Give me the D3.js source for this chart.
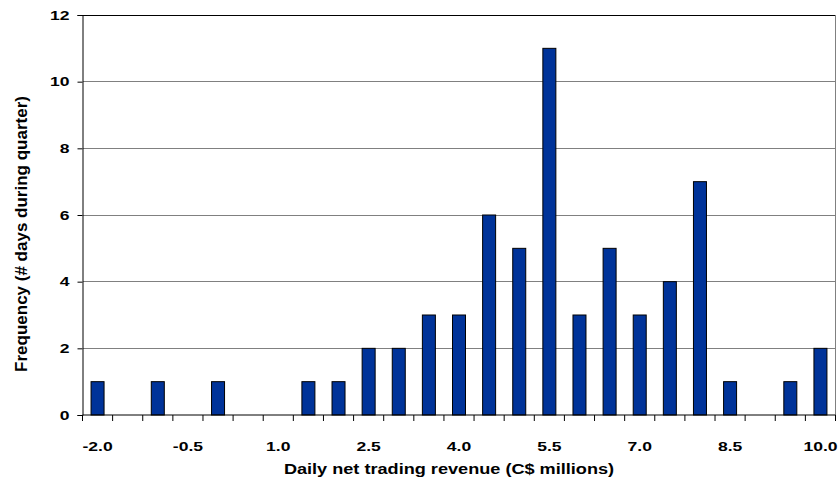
<!DOCTYPE html>
<html>
<head>
<meta charset="utf-8">
<script src="https://cdn.jsdelivr.net/npm/d3@7"></script>
<style>
  html, body { margin: 0; padding: 0; background: #fff; }
  svg text { font-family: "Liberation Sans", Arial, sans-serif; font-weight: bold; fill: #000; }
</style>
</head>
<body>
<svg id="chart" width="840" height="487"></svg>
<script>
// Revenue buckets (C$ millions) and number of trading days in each
const buckets = ["-2.0","-1.5","-1.0","-0.5","0.0","0.5","1.0","1.5","2.0","2.5","3.0","3.5",
                 "4.0","4.5","5.0","5.5","6.0","6.5","7.0","7.5","8.0","8.5","9.0","9.5","10.0"];
const days = [1,0,1,0,1,0,0,1,1,2,2,3,3,6,5,11,3,5,3,4,7,1,0,1,2];
const labelledBuckets = ["-2.0","-0.5","1.0","2.5","4.0","5.5","7.0","8.5","10.0"];
const yTicks = [0,2,4,6,8,10,12];

const svg = d3.select("#chart");
const plotL = 82.5, plotR = 835.5, plotT = 15, plotB = 415;
const wide = 1.3; // horizontal stretch of the label type

const x = d3.scaleBand().domain(buckets).range([plotL, plotR]).paddingInner(0).paddingOuter(0);
const y = d3.scaleLinear().domain([0, 12]).range([plotB, plotT]);

// horizontal gridlines
svg.append("g").selectAll("line").data(yTicks.filter(d => d > 0 && d < 12)).join("line")
  .attr("x1", plotL).attr("x2", plotR)
  .attr("y1", d => y(d)).attr("y2", d => y(d))
  .attr("stroke", "#808080").attr("stroke-width", 1)
  .attr("shape-rendering", "crispEdges");

// plot frame: dark top, grey right
svg.append("line").attr("x1", plotL).attr("x2", plotR).attr("y1", y(12)).attr("y2", y(12))
  .attr("stroke", "#000").attr("shape-rendering", "crispEdges");
svg.append("line").attr("x1", plotR).attr("x2", plotR).attr("y1", plotT).attr("y2", plotB)
  .attr("stroke", "#808080").attr("shape-rendering", "crispEdges");

// bars
const barW = 13;
svg.append("g").selectAll("rect").data(buckets.map((b, i) => ({b, v: days[i]})).filter(d => d.v > 0)).join("rect")
  .attr("x", d => x(d.b) + x.bandwidth() / 2 - barW / 2)
  .attr("y", d => y(d.v))
  .attr("width", barW)
  .attr("height", d => y(0) - y(d.v))
  .attr("fill", "#003399")
  .attr("stroke", "#000").attr("stroke-width", 1);

// y axis
const yAxis = svg.append("g").attr("transform", `translate(${plotL},0)`)
  .call(d3.axisLeft(y).tickValues(yTicks).tickSize(5).tickPadding(7).tickFormat(d3.format("d")));
yAxis.select(".domain").attr("stroke", "#000");
yAxis.selectAll(".tick line").attr("stroke", "#000");
yAxis.selectAll(".tick text")
  .attr("transform", `translate(-13,0) scale(${wide},1)`).attr("x", 0)
  .style("font-size", "13.5px");

// x axis: tick marks on bucket boundaries, labels every third bucket
const xAxis = svg.append("g").attr("transform", `translate(0,${plotB})`);
xAxis.append("line").attr("x1", plotL).attr("x2", plotR).attr("y1", 0).attr("y2", 0)
  .attr("stroke", "#000");
const bounds = d3.range(buckets.length + 1).map(i => plotL + i * x.bandwidth());
xAxis.selectAll("line.tk").data(bounds).join("line").attr("class", "tk")
  .attr("x1", d => d).attr("x2", d => d).attr("y1", 0).attr("y2", 6)
  .attr("stroke", "#000");
xAxis.selectAll("text").data(labelledBuckets).join("text")
  .attr("transform", d => `translate(${x(d) + x.bandwidth() / 2},36) scale(${wide},1)`)
  .attr("text-anchor", "middle")
  .style("font-size", "13.5px")
  .text(d => d);

// axis titles
svg.append("text")
  .attr("transform", `translate(${(plotL + plotR) / 2 - 10},474) scale(1.25,1)`)
  .attr("text-anchor", "middle").style("font-size", "14.5px")
  .text("Daily net trading revenue (C$ millions)");
svg.append("text").attr("transform", `translate(27,234) rotate(-90)`)
  .attr("text-anchor", "middle").style("font-size", "17px")
  .text("Frequency (# days during quarter)");
</script>
</body>
</html>
